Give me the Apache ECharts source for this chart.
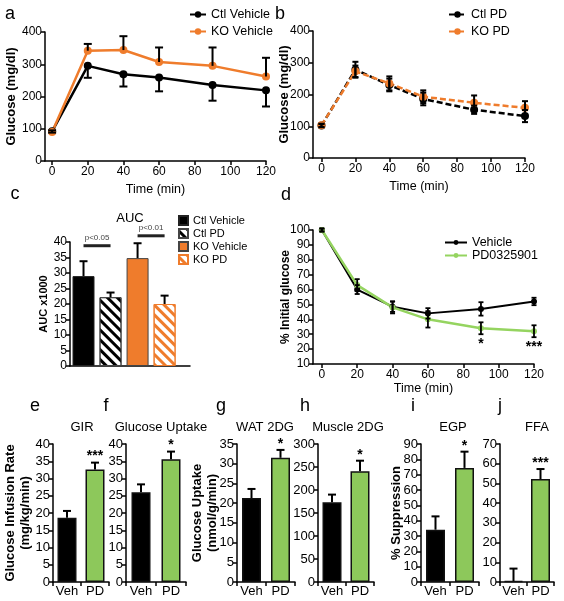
<!DOCTYPE html>
<html><head><meta charset="utf-8">
<script src="https://cdn.jsdelivr.net/npm/echarts@6/dist/echarts.min.js"></script>
<style>html,body{margin:0;padding:0;background:#fff}#c{width:564px;height:601px}</style>
</head><body><div id="c"></div>
<script>
// ---------- DATA ----------
const timePts = [0, 20, 40, 60, 90, 120];
const timeTicks = [0, 20, 40, 60, 80, 100, 120];
// panel a
const ctlVehicle = [92, 295, 269, 259, 236, 219];
const ctlVehicleErr = [4, 37, 38, 43, 49, 50];
const koVehicle = [90, 342, 344, 307, 295, 262];
const koVehicleErr = [5, 21, 43, 45, 57, 58];
// panel b
const ctlPD = [102, 278, 230, 186, 152, 132];
const ctlPDErr = [5, 25, 20, 20, 13, 19];
const koPD = [103, 273, 235, 193, 174, 158];
const koPDErr = [5, 18, 22, 20, 23, 21];
// panel c
const aucCats = ['Ctl Vehicle', 'Ctl PD', 'KO Vehicle', 'KO PD'];
const aucVals = [29, 22.2, 34.8, 20];
const aucErr = [4.8, 1.5, 4.8, 2.7];
const sigText = ['p<0.05', 'p<0.01'];
const sigY = [38.8, 42];
// panel d
const vehD = [100, 60, 48.5, 44, 47, 52];
const vehDErr = [1, 3, 3.5, 3.5, 4.5, 2.5];
const pdD = [100, 63, 48, 40, 34, 32];
const pdDErr = [1, 4, 4, 5.5, 4, 4];
const dStars = ['', '', '', '', '*', '***'];
// bottom panels
const groups = ['Veh', 'PD'];
const gir = [18.6, 32.6], girErr = [2.0, 2.0], girStars = ['', '***'];
const uptake = [26.0, 35.6], uptakeErr = [2.3, 2.2], uptakeStars = ['', '*'];
const wat = [21.3, 31.5], watErr = [2.3, 2.0], watStars = ['', '*'];
const muscle = [173.5, 240.7], muscleErr = [16.5, 23], muscleStars = ['', '*'];
const egp = [34.1, 74.4], egpErr = [8.7, 10.6], egpStars = ['', '*'];
const ffa = [0.5, 52.2], ffaErr = [6.3, 5.1], ffaStars = ['', '***'];

// ---------- STYLE ----------
const FONT = 'Liberation Sans, Arial, Helvetica, sans-serif';
const ORANGE = '#ef7c2c';
const GREEN_BAR = '#8dc85b';
const GREEN_LINE = '#95d460';
const AX = {color: '#000', width: 1.5};

function zip(xs, ys) { return xs.map((x, i) => [x, ys[i]]); }

function yAxis(gi, min, max, interval, name, gap, fs, nameFs) {
  return {
    gridIndex: gi, type: 'value', min, max, interval,
    axisLine: {show: true, onZero: false, lineStyle: AX},
    axisTick: {show: true, length: 4, lineStyle: AX},
    axisLabel: {fontSize: fs, color: '#000', margin: 3, fontFamily: FONT},
    splitLine: {show: false},
    name: name || '', nameLocation: 'middle', nameGap: gap || 20, nameMoveOverlap: false,
    nameTextStyle: {fontSize: nameFs || 13, fontWeight: 'bold', color: '#000', fontFamily: FONT, lineHeight: 15}
  };
}
function timeAxis(gi, min, nameGap) {
  return {
    gridIndex: gi, type: 'value', min, max: 120,
    axisLine: {show: true, onZero: false, lineStyle: AX},
    axisTick: {show: true, length: 4, lineStyle: AX, customValues: timeTicks},
    axisLabel: {fontSize: 12, color: '#000', margin: 5, fontFamily: FONT, customValues: timeTicks},
    splitLine: {show: false},
    name: 'Time (min)', nameLocation: 'middle', nameGap,
    nameTextStyle: {fontSize: 12.5, color: '#000', fontFamily: FONT}
  };
}
function catAxis(gi) {
  return {
    gridIndex: gi, type: 'category', data: groups,
    axisLine: {show: true, onZero: false, lineStyle: AX},
    axisTick: {show: true, length: 4, lineStyle: AX},
    axisLabel: {fontSize: 13, color: '#000', margin: 3, fontFamily: FONT, interval: 0, hideOverlap: false},
    splitLine: {show: false}
  };
}

function errBars(gi, xs, ys, lo, hi, color, capW, lw, labels, labelPos, z) {
  const data = xs.map((x, i) => [x, ys[i], lo[i], hi[i]]);
  return {
    type: 'custom', xAxisIndex: gi, yAxisIndex: gi, z: z || 4, silent: true, clip: false,
    data, encode: {x: 0, y: 1},
    renderItem(params, api) {
      const x = api.value(0), y = api.value(1), l = api.value(2), h = api.value(3);
      const p = api.coord([x, y]), pt = api.coord([x, y + h]), pb = api.coord([x, y - l]);
      const st = {stroke: color, lineWidth: lw};
      const ch = [{type: 'line', shape: {x1: p[0], y1: pb[1], x2: p[0], y2: pt[1]}, style: st}];
      if (h > 0) ch.push({type: 'line', shape: {x1: p[0] - capW / 2, y1: pt[1], x2: p[0] + capW / 2, y2: pt[1]}, style: st});
      if (l > 0) ch.push({type: 'line', shape: {x1: p[0] - capW / 2, y1: pb[1], x2: p[0] + capW / 2, y2: pb[1]}, style: st});
      const lab = labels && labels[params.dataIndex];
      if (lab) {
        const below = labelPos === 'below';
        ch.push({type: 'text', x: p[0], y: below ? pb[1] + 3 : pt[1] + 1,
          style: {text: lab, fill: '#000', font: 'bold 14px ' + FONT, align: 'center', textAlign: 'center',
            verticalAlign: below ? 'top' : 'bottom', textVerticalAlign: below ? 'top' : 'bottom'}});
      }
      return {type: 'group', children: ch};
    }
  };
}

function lineSeries(gi, name, ys, color, size, width, dashed, z) {
  return {
    type: 'line', name, xAxisIndex: gi, yAxisIndex: gi, data: zip(timePts, ys),
    symbol: 'circle', symbolSize: size, z: z || 3,
    lineStyle: {color, width, type: dashed ? [6, 3] : 'solid'},
    itemStyle: {color}
  };
}

function barPanel(gi, vals, errs, stars) {
  return [
    {type: 'bar', xAxisIndex: gi, yAxisIndex: gi, barWidth: 19,
      data: vals.map((v, i) => ({value: v, itemStyle: {color: i === 0 ? '#000' : GREEN_BAR, borderColor: '#111', borderWidth: 1.5}}))},
    errBars(gi, [0, 1], vals, [0, 0], errs, '#000', 8, 2, stars, 'above', 5)
  ];
}

// ---------- GRIDS ----------
const grids = [
  {left: 45, top: 32, width: 221, height: 129},   // a
  {left: 313, top: 31, width: 212, height: 127},  // b
  {left: 70, top: 242, width: 120, height: 124},  // c
  {left: 313, top: 230, width: 221, height: 134}, // d
  {left: 53, top: 444, width: 56, height: 138},   // e
  {left: 126, top: 444, width: 60, height: 138},  // f
  {left: 237, top: 444, width: 58, height: 138},  // g
  {left: 318, top: 444, width: 56, height: 138},  // h
  {left: 421, top: 444, width: 58, height: 138},  // i
  {left: 500, top: 444, width: 54, height: 138}   // j
];

const xAxes = [
  timeAxis(0, -4, 22),
  timeAxis(1, -5, 22),
  {gridIndex: 2, type: 'value', min: 0, max: 4.44, axisLine: {show: true, onZero: false, lineStyle: AX},
    axisTick: {show: false}, axisLabel: {show: false}, splitLine: {show: false}},
  timeAxis(3, -5, 17),
  catAxis(4), catAxis(5), catAxis(6), catAxis(7), catAxis(8), catAxis(9)
];
const yAxes = [
  yAxis(0, 0, 400, 100, 'Glucose (mg/dl)', 26, 12, 13),
  yAxis(1, 0, 400, 100, 'Glucose (mg/dl)', 21.5, 12, 13),
  yAxis(2, 0, 40, 5, 'AUC x1000', 18.5, 12, 11),
  yAxis(3, 10, 100, 10, '% Initial glucose', 20, 12, 12),
  yAxis(4, 0, 40, 5, 'Glucose Infusion Rate\n(mg/kg/min)', 20, 13, 13),
  yAxis(5, 0, 40, 5, '', 20, 13, 13),
  yAxis(6, 0, 35, 5, 'Glucose Uptake\n(nmol/g/min)', 17, 13, 13),
  yAxis(7, 0, 300, 50, '', 20, 13, 13),
  yAxis(8, 0, 90, 10, '% Suppression', 17.5, 13, 13),
  yAxis(9, 0, 70, 10, '', 20, 13, 13)
];

// ---------- SERIES ----------
const series = [];
// a
series.push(lineSeries(0, 'Ctl Vehicle', ctlVehicle, '#000', 8, 2.5, false, 3));
series.push(lineSeries(0, 'KO Vehicle', koVehicle, ORANGE, 8, 2.5, false, 3));
series.push(errBars(0, timePts, ctlVehicle, ctlVehicleErr, ctlVehicle.map(() => 0), '#000', 8, 2));
series.push(errBars(0, timePts, koVehicle, koVehicle.map(() => 0), koVehicleErr, '#000', 8, 2));
// b
series.push(lineSeries(1, 'Ctl PD', ctlPD, '#000', 8, 2.5, true, 3));
series.push(lineSeries(1, 'KO PD', koPD, ORANGE, 8, 2.5, true, 3));
series.push(errBars(1, timePts, ctlPD, ctlPDErr, ctlPDErr, '#000', 6, 2));
series.push(errBars(1, timePts, koPD, koPDErr, koPDErr, '#000', 6, 2));
// c
const hatch = (c) => ({symbol: 'rect', symbolSize: 1, dashArrayX: [1, 0], dashArrayY: [3, 4], rotation: Math.PI / 4, color: c});
const cStyles = [
  {color: '#000', borderColor: '#222', borderWidth: 1},
  {color: '#fff', borderColor: '#444', borderWidth: 1, decal: hatch('#000')},
  {color: ORANGE, borderColor: '#444', borderWidth: 1},
  {color: '#fff', borderColor: ORANGE, borderWidth: 1, decal: hatch(ORANGE)}
];
aucCats.forEach((name, i) => {
  series.push({type: 'bar', name: 'c:' + name, xAxisIndex: 2, yAxisIndex: 2, barWidth: 22, barGap: '-100%',
    data: [[i + 0.5, aucVals[i]]], itemStyle: cStyles[i]});
});
series.push(errBars(2, aucVals.map((v, i) => i + 0.5), aucVals, aucVals.map(() => 0), aucErr, '#000', 8, 2, null, null, 5));
series.push({
  type: 'custom', xAxisIndex: 2, yAxisIndex: 2, silent: true, clip: false, z: 5,
  data: sigY.map((y, i) => [2 * i + 0.5, y, 2 * i + 1.5]),
  renderItem(params, api) {
    const a = api.coord([api.value(0), api.value(1)]), b = api.coord([api.value(2), api.value(1)]);
    return {type: 'group', children: [
      {type: 'line', shape: {x1: a[0], y1: a[1], x2: b[0], y2: b[1]}, style: {stroke: '#222', lineWidth: 3}},
      {type: 'text', x: (a[0] + b[0]) / 2, y: a[1] - 4, style: {text: sigText[params.dataIndex], fill: '#444',
        font: '8px ' + FONT, align: 'center', textAlign: 'center', verticalAlign: 'bottom', textVerticalAlign: 'bottom'}}
    ]};
  }
});
// d
series.push(lineSeries(3, 'Vehicle', vehD, '#000', 6, 2, false, 3));
series.push(lineSeries(3, 'PD0325901', pdD, GREEN_LINE, 6, 2.5, false, 3));
series.push(errBars(3, timePts, vehD, vehDErr, vehDErr, '#000', 5, 1.8));
series.push(errBars(3, timePts, pdD, pdDErr, pdDErr, '#000', 5, 1.8, dStars, 'below'));
// bottom
[[gir, girErr, girStars], [uptake, uptakeErr, uptakeStars], [wat, watErr, watStars],
 [muscle, muscleErr, muscleStars], [egp, egpErr, egpStars], [ffa, ffaErr, ffaStars]]
  .forEach((d, k) => series.push(...barPanel(4 + k, d[0], d[1], d[2])));

// ---------- TEXT ----------
function txt(text, x, y, size, weight) {
  return {type: 'text', x, y, style: {text, fill: '#000', font: (weight || 'normal') + ' ' + size + 'px ' + FONT,
    align: 'center', textAlign: 'center', verticalAlign: 'middle', textVerticalAlign: 'middle'}};
}
const graphics = [
  txt('a', 10, 14, 18), txt('b', 280, 14, 18), txt('c', 15, 194, 18), txt('d', 286, 195, 18),
  txt('e', 35, 406, 18), txt('f', 106, 406, 18), txt('g', 221, 406, 18), txt('h', 305, 406, 18),
  txt('i', 413, 406, 18), txt('j', 500, 406, 18),
  txt('AUC', 130, 218, 13), txt('GIR', 82, 427, 13), txt('Glucose Uptake', 161, 427, 13),
  txt('WAT 2DG', 265, 427, 13), txt('Muscle 2DG', 348, 427, 13), txt('EGP', 453, 427, 13), txt('FFA', 537, 427, 13)
];

const legendBase = {orient: 'vertical', padding: 0, textStyle: {color: '#000', fontFamily: FONT}};
const option = {
  animation: false,
  backgroundColor: '#fff',
  textStyle: {fontFamily: FONT},
  grid: grids,
  xAxis: xAxes,
  yAxis: yAxes,
  legend: [
    Object.assign({}, legendBase, {data: ['Ctl Vehicle', 'KO Vehicle'], left: 189, top: 8, itemWidth: 16, itemHeight: 8, itemGap: 4,
      textStyle: {color: '#000', fontFamily: FONT, fontSize: 12.5}}),
    Object.assign({}, legendBase, {data: ['Ctl PD', 'KO PD'], left: 448, top: 8, itemWidth: 17, itemHeight: 8, itemGap: 4,
      textStyle: {color: '#000', fontFamily: FONT, fontSize: 12.5}}),
    Object.assign({}, legendBase, {data: aucCats.map(n => 'c:' + n), left: 178, top: 215, itemWidth: 9, itemHeight: 9, itemGap: 2,
      icon: 'rect', formatter: n => n.slice(2), textStyle: {color: '#000', fontFamily: FONT, fontSize: 11}}),
    Object.assign({}, legendBase, {data: ['Vehicle', 'PD0325901'], left: 444, top: 236, itemWidth: 22, itemHeight: 6, itemGap: 0,
      textStyle: {color: '#000', fontFamily: FONT, fontSize: 12.5}})
  ],
  graphic: graphics,
  series
};
const chart = echarts.init(document.getElementById('c'), null, {renderer: 'canvas'});
chart.setOption(option);
</script></body></html>
